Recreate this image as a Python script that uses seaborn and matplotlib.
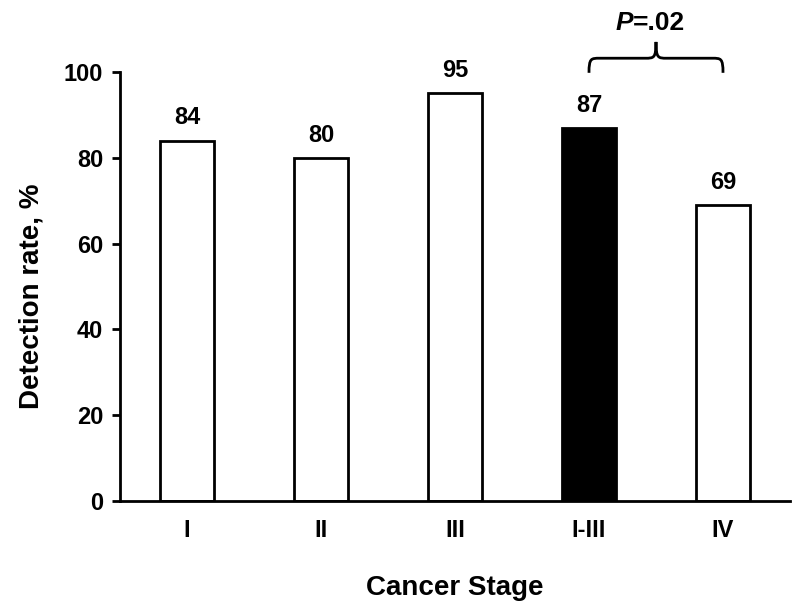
import matplotlib
matplotlib.use("Agg")
import matplotlib.pyplot as plt
import seaborn as sns
import pandas as pd
from matplotlib.path import Path
from matplotlib.patches import PathPatch

categories = ["I", "II", "III", "I-III", "IV"]
rates = [84, 80, 95, 87, 69]
fill_colors = ["white", "white", "white", "black", "white"]
p_label = ".02"

sns.set_theme(style="white")
plt.rcParams["font.family"] = ["Liberation Sans", "DejaVu Sans"]
plt.rcParams["text.color"] = "black"
plt.rcParams["axes.labelcolor"] = "black"
plt.rcParams["xtick.color"] = "black"
plt.rcParams["ytick.color"] = "black"

df = pd.DataFrame({"stage": categories, "rate": rates})

fig = plt.figure(figsize=(8, 6.15), dpi=100)
ax = fig.add_axes([0.15, 0.1854, 0.8375, 0.6976])

sns.barplot(data=df, x="stage", y="rate", hue="stage", order=categories,
            palette=dict(zip(categories, fill_colors)), legend=False,
            edgecolor="black", linewidth=2.0, width=0.4, ax=ax, saturation=1)

for c in ax.containers:
    ax.bar_label(c, fmt="%d", padding=8, fontsize=17, fontweight="bold",
                 color="black")

ax.set_xlim(-0.5, 4.5)
ax.set_ylim(0, 100)
ax.set_yticks([0, 20, 40, 60, 80, 100])
sns.despine(ax=ax)
for s in ["left", "bottom"]:
    ax.spines[s].set_linewidth(2.0)
    ax.spines[s].set_color("black")
ax.tick_params(axis="y", direction="out", length=6, width=2, color="black",
               left=True, labelsize=17, pad=6)
ax.tick_params(axis="x", length=0, labelsize=17, pad=13)
for lab in ax.get_xticklabels() + ax.get_yticklabels():
    lab.set_fontweight("bold")
ax.set_xlabel("Cancer Stage", fontsize=20, fontweight="bold", labelpad=24)
ax.set_ylabel("Detection rate, %", fontsize=20, fontweight="bold")
ax.yaxis.set_label_coords(-0.113, 0.478)

# brace between I-III and IV
x0, x1 = categories.index("I-III"), categories.index("IV")
xm = (x0 + x1) / 2
yb, yh, yt = 99.8, 103.2, 107.0
dx = 0.08
verts = [
    (x0, yb), (x0, yh), (x0 + dx * 0.2, yh), (x0 + dx, yh),
    (xm - dx, yh),
    (xm - dx * 0.2, yh), (xm, yh), (xm, yt),
    (xm, yh), (xm + dx * 0.2, yh), (xm + dx, yh),
    (x1 - dx, yh),
    (x1 - dx * 0.2, yh), (x1, yh), (x1, yb),
]
codes = [Path.MOVETO, Path.CURVE4, Path.CURVE4, Path.CURVE4,
         Path.LINETO,
         Path.CURVE4, Path.CURVE4, Path.CURVE4,
         Path.CURVE4, Path.CURVE4, Path.CURVE4,
         Path.LINETO,
         Path.CURVE4, Path.CURVE4, Path.CURVE4]
ax.add_patch(PathPatch(Path(verts, codes), fill=False, lw=2.0,
                       edgecolor="black", clip_on=False))
tp = ax.text(xm - 0.17, 111.3, "P", ha="right", va="center", fontsize=19,
             fontweight="bold", fontstyle="italic", color="black")
ax.annotate("=" + p_label, xy=(1, 0), xycoords=tp, ha="left", va="bottom",
            fontsize=19, fontweight="bold", color="black")

fig.savefig("out.png", dpi=100)
